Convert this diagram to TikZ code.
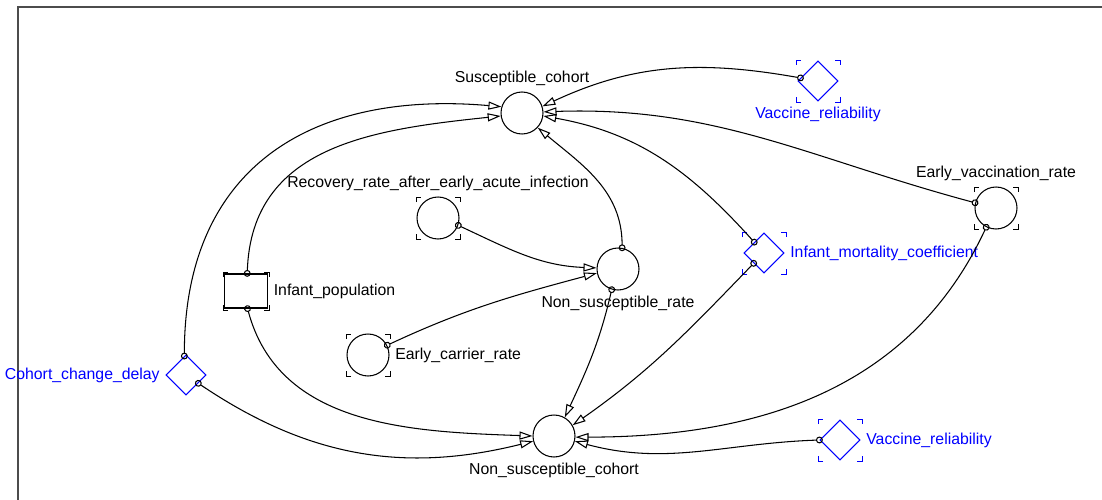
\documentclass[tikz,border=0pt]{standalone}
\usepackage{fontspec}
\setmainfont{Liberation Sans}
\usetikzlibrary{arrows.meta,shapes.geometric,calc}

% corner marks round a node: #1 colour, #2 node, #3 half width, #4 half height
\newcommand{\cornermarks}[4][black]{%
  \draw[#1, corner line] ($(#2)+(-#3,-#4+5)$) -- ++(0,-5) -- ++(5,0);
  \draw[#1, corner line] ($(#2)+(#3-5,-#4)$) -- ++(5,0) -- ++(0,5);
  \draw[#1, corner line] ($(#2)+(#3,#4-5)$) -- ++(0,5) -- ++(-5,0);
  \draw[#1, corner line] ($(#2)+(-#3+5,#4)$) -- ++(-5,0) -- ++(0,-5);
}

\begin{document}
\begin{tikzpicture}
[x=0.02cm, y=-0.02cm, line width=0.6pt,
lbl/.style = {font=\fontsize{9}{11}\selectfont, inner sep=3pt},
auxiliary/.style = {circle, draw, minimum size=0.84cm, inner sep=0pt},
constant/.style = {diamond, draw=blue, minimum width=0.8cm, minimum height=0.8cm, inner sep=0pt},
stock/.style = {rectangle, draw, minimum width=0.86cm, minimum height=0.68cm, inner sep=0pt},
info link/.style = {arrows={Circle[open,length=3.9pt,width=3.9pt]-Triangle[open,length=7.4pt,width=4.6pt]},
                    shorten <=-1.9pt},
frame line/.style = {black!70, line width=0.9pt},
corner line/.style = {line width=0.5pt}]

\useasboundingbox (0,0) rectangle (1102,500);
\draw[frame line] (18,500) |- (1102,7);

% variables
\node[auxiliary, label={[lbl]above:Susceptible\_cohort}] (sus) at (522,113) {};
\node[auxiliary, label={[lbl]below:Non\_susceptible\_cohort}] (nsc) at (554,436) {};
\node[auxiliary, label={[lbl]below:Non\_susceptible\_rate}] (nsr) at (618,269) {};
\node[auxiliary, label={[lbl]above:Recovery\_rate\_after\_early\_acute\_infection}] (rec) at (438,218) {};
\node[auxiliary, label={[lbl]right:Early\_carrier\_rate}] (ecr) at (368,355) {};
\node[auxiliary, label={[lbl]above:Early\_vaccination\_rate}] (evr) at (996,208) {};
\node[stock, label={[lbl]right:Infant\_population}] (inf) at (246,291) {};
\node[constant, label={[lbl,text=blue]below:Vaccine\_reliability}] (vacA) at (818,81) {};
\node[constant, label={[lbl,text=blue]right:Vaccine\_reliability}] (vacB) at (840,440) {};
\node[constant, label={[lbl,text=blue]right:Infant\_mortality\_coefficient}] (imc) at (764,253) {};
\node[constant, label={[lbl,text=blue]left:Cohort\_change\_delay}] (ccd) at (186,375) {};

\cornermarks{rec}{22}{21}
\cornermarks{ecr}{22}{21}
\cornermarks{evr}{22}{21}
\cornermarks{inf}{23}{19}
\cornermarks[blue]{vacA}{22}{21}
\cornermarks[blue]{vacB}{22}{21}
\cornermarks[blue]{imc}{22}{21}

% links into Susceptible_cohort
\draw[info link] (vacA.170) to[out=170,in=25] (sus.18);
\draw[info link] (evr.166) to[out=165,in=2] (sus.3);
\draw[info link] (imc.132) to[out=132,in=-10] (sus.-8);
\draw[info link] (nsr.79) to[out=90,in=-40] (sus.-43);
\draw[info link] (ccd.95) to[out=90,in=175,looseness=1.2] (sus.163);
\draw[info link] (inf.86) to[out=88,in=186,looseness=1.1] (sus.188);

% links into Non_susceptible_rate
\draw[info link] (rec.-20) to[out=-25,in=178] (nsr.177);
\draw[info link] (ecr.27) to[out=25,in=195] (nsr.191);

% links into Non_susceptible_cohort
\draw[info link] (nsr.-107) to[out=-103,in=65] (nsc.60);
\draw[info link] (imc.225) to[out=-134,in=35] (nsc.30);
\draw[info link] (evr.-117) to[out=-115,in=0] (nsc.-3);
\draw[info link] (vacB.west) to[out=182,in=-15] (nsc.-14);
\draw[info link] (inf.-85) to[out=-75,in=178] (nsc.180);
\draw[info link] (ccd.-34) to[out=-34,in=194] (nsc.194);
\end{tikzpicture}
\end{document}
